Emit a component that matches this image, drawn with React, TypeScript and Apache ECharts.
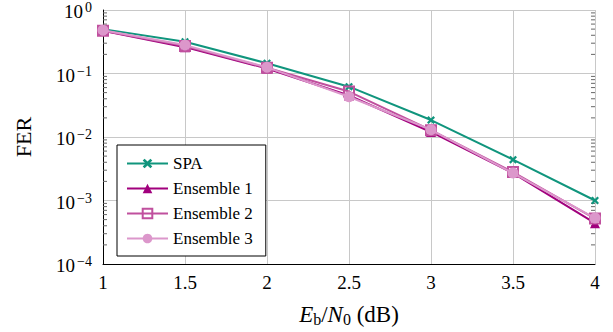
import React, { useEffect, useRef } from "react";
import * as echarts from "echarts";

const ebn0 = [1, 1.5, 2, 2.5, 3, 3.5, 4];
const spa = [0.5, 0.316, 0.145, 0.062, 0.0185, 0.0044, 0.001];
const ens1 = [0.47, 0.26, 0.12, 0.045, 0.012, 0.0027, 0.00044];
const ens2 = [0.47, 0.27, 0.123, 0.052, 0.0128, 0.0028, 0.00052];
const ens3 = [0.48, 0.28, 0.125, 0.043, 0.013, 0.0027, 0.00053];
const seriesNames = ["SPA", "Ensemble 1", "Ensemble 2", "Ensemble 3"];
const colors = ["#10957d", "#a1007d", "#c0509e", "#dc97cb"];
const decades = [-4, -3, -2, -1];
const minorMultipliers = [2, 3, 4, 5, 6, 7, 8, 9];

const FONT = "'Liberation Serif', 'Times New Roman', serif";

const xMark = "path://M2,0 L5,3 L8,0 L10,2 L7,5 L10,8 L8,10 L5,7 L2,10 L0,8 L3,5 L0,2 Z";

export default function App() {
  const ref = useRef<HTMLDivElement>(null);
  useEffect(() => {
    if (!ref.current) return;
    const chart = echarts.init(ref.current, undefined, { renderer: "svg" });
    const pairs = (ys: number[]) => ebn0.map((x, i) => [x, ys[i]]);
    const minorData: number[][] = [];
    decades.forEach((d) => minorMultipliers.forEach((m) => minorData.push([1, m * Math.pow(10, d)])));
    const option: any = {
      animation: false,
      textStyle: { fontFamily: FONT, color: "#000" },
      grid: { left: 103, right: 18, top: 10, bottom: 68, containLabel: false, outerBoundsMode: "none" },
      xAxis: {
        type: "value",
        min: 1,
        max: 4,
        interval: 0.5,
        name: "{i|E}{sub|b}/{i|N}{sub|0} (dB)",
        nameLocation: "middle",
        nameGap: 37,
        nameTextStyle: {
          fontFamily: FONT,
          fontSize: 23,
          color: "#000",
          rich: {
            i: { fontFamily: FONT, fontSize: 23, fontStyle: "italic", color: "#000" },
            sub: { fontFamily: FONT, fontSize: 16, color: "#000", verticalAlign: "bottom", padding: [10, 0, 0, 0] },
          },
        },
        axisLine: { show: true, onZero: false, lineStyle: { color: "#000", width: 1 } },
        axisTick: { show: false },
        axisLabel: { fontFamily: FONT, fontSize: 19, color: "#000", margin: 9 },
        splitLine: { show: true, lineStyle: { color: "#c8c8c8", width: 1 } },
      },
      yAxis: {
        type: "log",
        logBase: 10,
        min: 1e-4,
        max: 1,
        name: "FER",
        nameLocation: "middle",
        nameGap: 69,
        nameTextStyle: { fontFamily: FONT, fontSize: 22, color: "#000" },
        axisLine: { show: true, onZero: false, lineStyle: { color: "#000", width: 1 } },
        axisTick: { show: false },
        axisLabel: {
          fontFamily: FONT,
          fontSize: 19,
          color: "#000",
          margin: 11,
          formatter: (v: number) => {
            const e = Math.round(Math.log10(v));
            return "{n|10}{sup|" + (e < 0 ? "\u2212" + -e : String(e)) + "}";
          },
          rich: {
            n: { fontFamily: FONT, fontSize: 19, lineHeight: 19, color: "#000", padding: [3, 0, 0, 0] },
            sup: { fontFamily: FONT, fontSize: 14, lineHeight: 14, color: "#000", verticalAlign: "top", padding: [0, 0, 4, 2] },
          },
        },
        splitLine: { show: true, lineStyle: { color: "#c8c8c8", width: 1 } },
      },
      legend: {
        data: seriesNames,
        orient: "vertical",
        left: 117,
        top: 145,
        backgroundColor: "#fff",
        borderColor: "#000",
        borderWidth: 1,
        borderRadius: 0,
        padding: [10, 13, 9, 9],
        itemGap: 8,
        itemWidth: 41,
        itemHeight: 12,
        textStyle: { fontFamily: FONT, fontSize: 17, lineHeight: 17, color: "#000" },
      },
      series: [
        {
          type: "custom",
          name: "minor",
          silent: true,
          clip: false,
          z: 1,
          data: minorData,
          renderItem: (params: any, api: any) => {
            const p = api.coord([1, api.value(1)]);
            const r = api.coord([4, api.value(1)]);
            return {
              type: "group",
              children: [
                { type: "line", shape: { x1: p[0], y1: p[1], x2: p[0] + 4, y2: p[1] }, style: { stroke: "#666", lineWidth: 1 } },
                { type: "line", shape: { x1: r[0], y1: r[1], x2: r[0] - 4, y2: r[1] }, style: { stroke: "#666", lineWidth: 1 } },
              ],
            };
          },
        },
        {
          name: "SPA",
          type: "line",
          data: pairs(spa),
          symbol: xMark,
          symbolSize: 8,
          color: colors[0],
          lineStyle: { color: colors[0], width: 2 },
          itemStyle: { color: colors[0] },
          z: 3,
        },
        {
          name: "Ensemble 1",
          type: "line",
          data: pairs(ens1),
          symbol: "triangle",
          symbolSize: 10,
          color: colors[1],
          lineStyle: { color: colors[1], width: 2 },
          itemStyle: { color: colors[1] },
          z: 4,
        },
        {
          name: "Ensemble 2",
          type: "line",
          data: pairs(ens2),
          symbol: "rect",
          symbolSize: 10,
          color: colors[2],
          lineStyle: { color: colors[2], width: 2 },
          itemStyle: { color: "rgba(255,255,255,0)", borderColor: colors[2], borderWidth: 2 },
          z: 5,
        },
        {
          name: "Ensemble 3",
          type: "line",
          data: pairs(ens3),
          symbol: "circle",
          symbolSize: 11,
          color: colors[3],
          lineStyle: { color: colors[3], width: 2 },
          itemStyle: { color: colors[3] },
          z: 6,
        },
      ],
    };
    chart.setOption(option);
    return () => chart.dispose();
  }, []);
  return <div ref={ref} style={{ width: 613, height: 332, position: "absolute", left: 0, top: 0 }} />;
}
